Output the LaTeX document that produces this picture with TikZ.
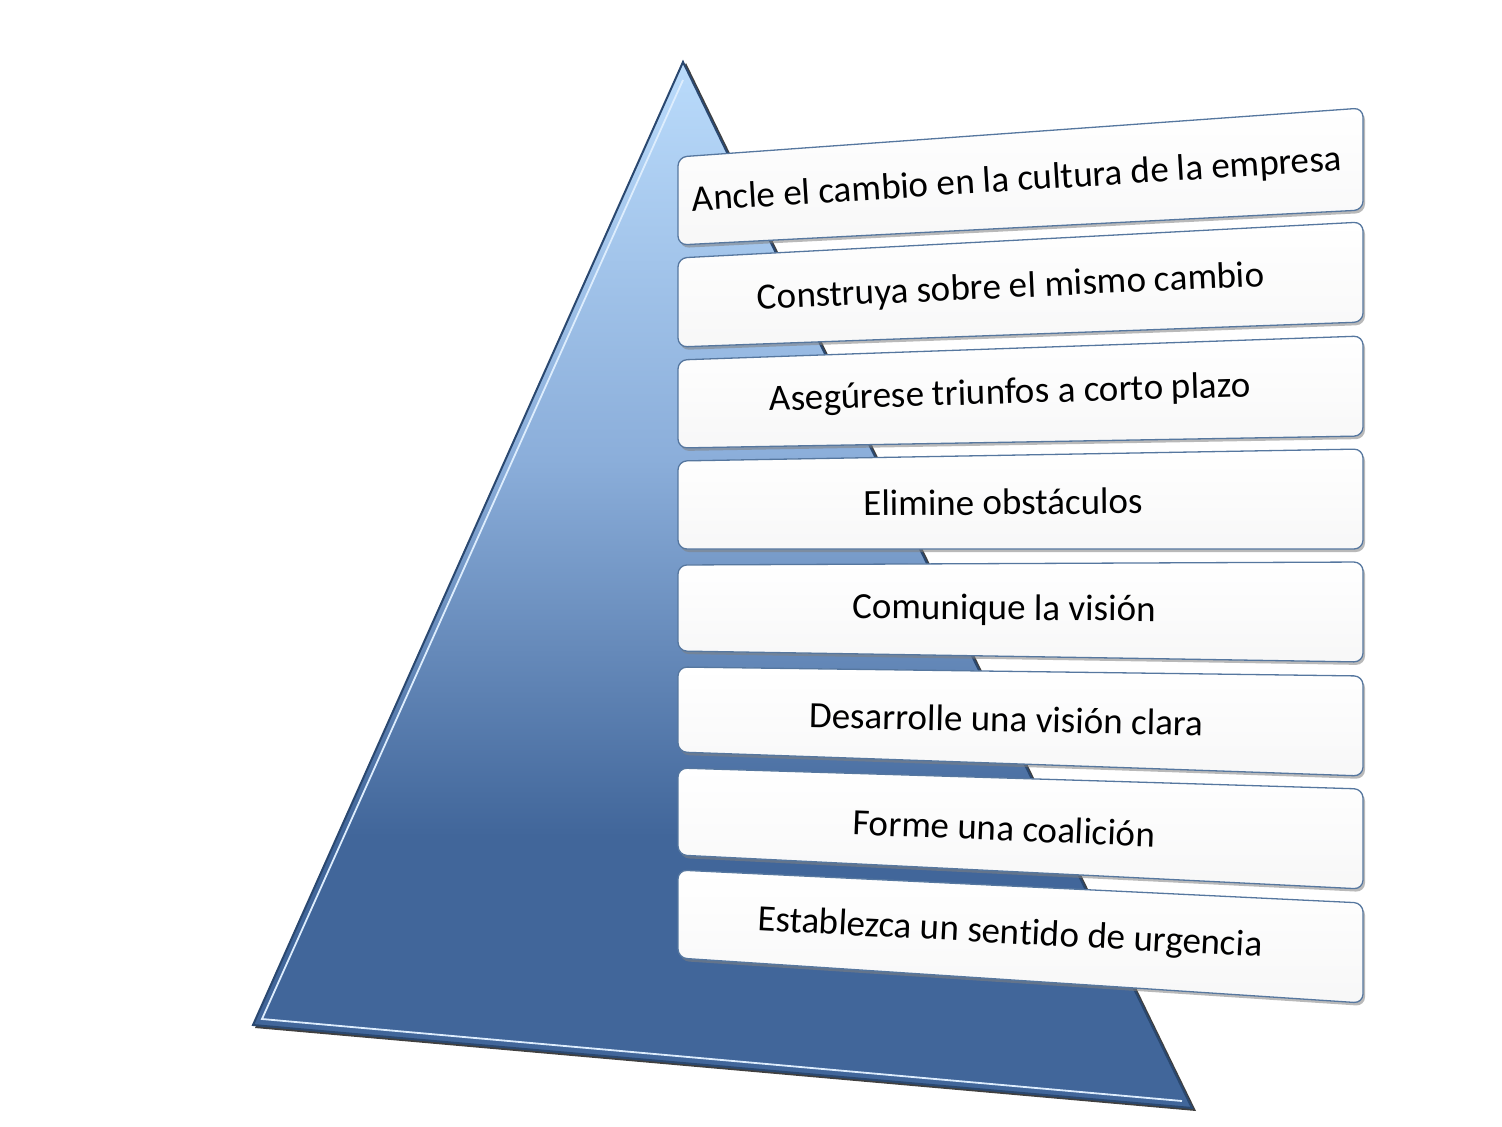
\documentclass[tikz,border=0pt]{standalone}
\usepackage{fontspec}
\setmainfont{Carlito}[Ligatures=NoCommon]
\usetikzlibrary{calc}

\definecolor{pyrtop}{HTML}{BADBFB}
\definecolor{pyrmid}{HTML}{8BAEDA}
\definecolor{pyrlow}{HTML}{41669A}
\definecolor{pyredge}{HTML}{2A4870}
\definecolor{boxedge}{HTML}{56779F}
\pgfdeclareverticalshading{pyrshade}{100bp}{color(0bp)=(pyrlow); color(38bp)=(pyrlow);
  color(56bp)=(pyrmid); color(75bp)=(pyrtop); color(100bp)=(pyrtop)}

\begin{document}
\begin{tikzpicture}[
    x=1pt, y=-1pt,
    stepbox/.style={draw=boxedge, line width=1.3pt, rounded corners=9pt,
      top color=white, bottom color=blue!3!black!3,
      preaction={fill=black!50, opacity=.55, transform canvas={shift={(2pt,-3pt)}}}},
    steptxt/.style={font=\fontsize{37}{41}\selectfont, inner sep=0pt},
  ]
  \useasboundingbox (0,0) rectangle (1502,1127);

  % pyramid
  \coordinate (apex) at (683,62);
  \coordinate (bl) at (253,1025);
  \coordinate (br) at (1192,1108);
  \fill[black!75] ($(apex)+(3,1)$) -- ($(br)+(4,3)$) -- ($(bl)+(2,3)$) -- cycle;
  \shade[shading=pyrshade, draw=pyredge, line width=2pt, line join=miter]
    (apex) -- (br) -- (bl) -- cycle;
  \draw[pyrtop!50!white, line width=1.8pt] (683,80) -- (262,1019) -- (1182,1101);

  % steps, top to bottom
  \draw[stepbox] (678,157) -- (1363,108) -- (1363,210) -- (678,245) -- cycle;
  \node[steptxt, rotate=3.6] (s8) at (1017,181) {Ancle el cambio en la cultura de la empresa};

  \draw[stepbox] (678,258) -- (1363,222) -- (1363,322) -- (678,347) -- cycle;
  \node[steptxt, rotate=2.6] (s7) at (1011,288) {Construya sobre el mismo cambio};

  \draw[stepbox] (678,360) -- (1363,336) -- (1363,436) -- (678,448) -- cycle;
  \node[steptxt, rotate=1.7] (s6) at (1010,394) {Asegúrese triunfos a corto plazo};

  \draw[stepbox] (678,461) -- (1363,449) -- (1363,549) -- (678,549) -- cycle;
  \node[steptxt, rotate=0.5] (s5) at (1003,502) {Elimine obstáculos};

  \draw[stepbox] (678,565) -- (1363,562) -- (1363,662) -- (678,651) -- cycle;
  \node[steptxt, rotate=-0.5] (s4) at (1004,610) {Comunique la visión};

  \draw[stepbox] (678,667) -- (1363,676) -- (1363,776) -- (678,752) -- cycle;
  \node[steptxt, rotate=-1.2] (s3) at (1006,719) {Desarrolle una visión clara};

  \draw[stepbox] (678,768) -- (1363,789) -- (1363,889) -- (678,855) -- cycle;
  \node[steptxt, rotate=-2.3] (s2) at (1004,828) {Forme una coalición};

  \draw[stepbox] (678,870) -- (1363,903) -- (1363,1003) -- (678,958) -- cycle;
  \node[steptxt, rotate=-3] (s1) at (1010,934) {Establezca un sentido de urgencia};
\end{tikzpicture}
\end{document}
